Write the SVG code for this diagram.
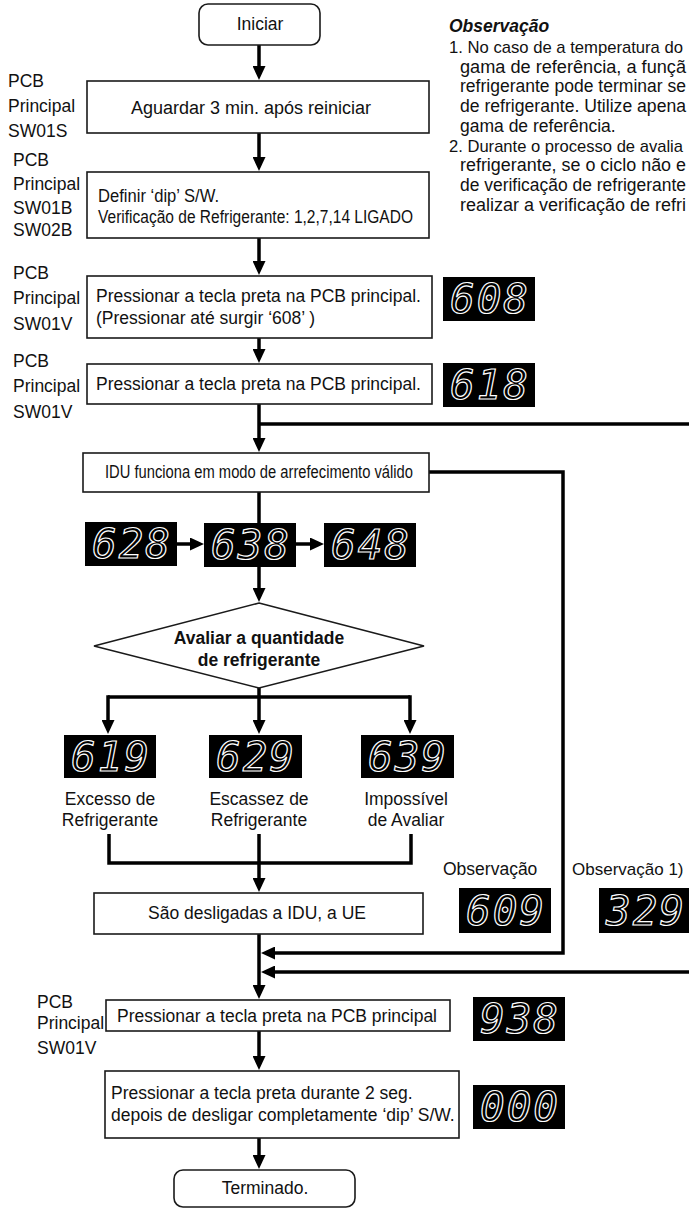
<svg xmlns="http://www.w3.org/2000/svg" width="689" height="1209" viewBox="0 0 689 1209">
<style>
.box{fill:#fff;stroke:#1a1a1a;stroke-width:1.6}
.t{font-family:"Liberation Sans",Arial,sans-serif;font-size:17.5px;fill:#111}
.c{text-anchor:middle}
.b{font-weight:bold}
.n1{font-size:16.6px}
.conn{stroke:#000;stroke-width:3.5;fill:none;stroke-linejoin:miter}
.disp{fill:#000}
.dt{font-family:"DejaVu Sans Mono",monospace;font-style:italic;font-size:41px;fill:none;stroke:#fff;stroke-width:1.2;text-anchor:middle;letter-spacing:2px}
</style>
<defs>
<marker id="ah" markerUnits="userSpaceOnUse" markerWidth="14" markerHeight="13" refX="8" refY="6.5" orient="auto"><path d="M0,0 L14,6.5 L0,13 z" fill="#000"/></marker>
</defs>

<g id="connectors">
<path class="conn" d="M259,45 V74" marker-end="url(#ah)"/>
<path class="conn" d="M259,133 V165" marker-end="url(#ah)"/>
<path class="conn" d="M259,238 V269" marker-end="url(#ah)"/>
<path class="conn" d="M259,338 V357" marker-end="url(#ah)"/>
<path class="conn" d="M259,404 V446" marker-end="url(#ah)"/>
<path class="conn" d="M259,424 H695"/>
<path class="conn" d="M429,472 H563 V953 H267" marker-end="url(#ah)"/>
<path class="conn" d="M695,972 H267" marker-end="url(#ah)"/>
<path class="conn" d="M259,492 V525"/>
<path class="conn" d="M259,565 V596" marker-end="url(#ah)"/>
<path class="conn" d="M177,544 H198" marker-end="url(#ah)"/>
<path class="conn" d="M296,544 H318" marker-end="url(#ah)"/>
<path class="conn" d="M259,688 V728" marker-end="url(#ah)"/>
<path class="conn" d="M108,697 H410"/>
<path class="conn" d="M108,695.25 V728" marker-end="url(#ah)"/>
<path class="conn" d="M410,695.25 V728" marker-end="url(#ah)"/>
<path class="conn" d="M109,834 V863 H411 V834"/>
<path class="conn" d="M259,834 V886" marker-end="url(#ah)"/>
<path class="conn" d="M259,933 V993" marker-end="url(#ah)"/>
<path class="conn" d="M259,1031 V1064" marker-end="url(#ah)"/>
<path class="conn" d="M259,1138 V1163" marker-end="url(#ah)"/>
</g>

<g id="n-iniciar">
<rect class="box" x="199" y="4" width="121" height="41" rx="9"/>
<text class="t c" x="260" y="30">Iniciar</text>
</g>

<g id="notes">
<text class="t b" x="449" y="32" style="font-style:italic">Observação</text>
<text class="t n1" x="449" y="53" textLength="234" lengthAdjust="spacingAndGlyphs">1. No caso de a temperatura do</text>
<text class="t" x="460" y="73" textLength="226" lengthAdjust="spacingAndGlyphs">gama de referência, a funçã</text>
<text class="t" x="460" y="92" textLength="226" lengthAdjust="spacingAndGlyphs">refrigerante pode terminar se</text>
<text class="t" x="460" y="112" textLength="226" lengthAdjust="spacingAndGlyphs">de refrigerante. Utilize apena</text>
<text class="t" x="460" y="132">gama de referência.</text>
<text class="t n1" x="449" y="152" textLength="234" lengthAdjust="spacingAndGlyphs">2. Durante o processo de avalia</text>
<text class="t" x="460" y="171" textLength="226" lengthAdjust="spacingAndGlyphs">refrigerante, se o ciclo não e</text>
<text class="t" x="460" y="191" textLength="226" lengthAdjust="spacingAndGlyphs">de verificação de refrigerante</text>
<text class="t" x="460" y="211" textLength="226" lengthAdjust="spacingAndGlyphs">realizar a verificação de refri</text>
</g>

<g id="n-aguardar">
<text class="t" x="8" y="87">PCB</text>
<text class="t" x="8" y="112">Principal</text>
<text class="t" x="8" y="137">SW01S</text>
<rect class="box" x="87" y="81" width="342" height="52"/>
<text class="t c" x="251" y="114" style="font-size:18px">Aguardar 3 min. após reiniciar</text>
</g>

<g id="n-dip">
<text class="t" x="13" y="166">PCB</text>
<text class="t" x="13" y="190">Principal</text>
<text class="t" x="13" y="214">SW01B</text>
<text class="t" x="13" y="236">SW02B</text>
<rect class="box" x="87" y="172" width="342" height="66"/>
<text class="t" x="98" y="202" textLength="121" lengthAdjust="spacingAndGlyphs">Definir ‘dip’ S/W.</text>
<text class="t" x="98" y="223" textLength="315" lengthAdjust="spacingAndGlyphs">Verificação de Refrigerante: 1,2,7,14 LIGADO</text>
</g>

<g id="n-press608">
<text class="t" x="13" y="279">PCB</text>
<text class="t" x="13" y="304">Principal</text>
<text class="t" x="13" y="330">SW01V</text>
<rect class="box" x="87" y="276" width="345" height="62"/>
<text class="t" x="96" y="302">Pressionar a tecla preta na PCB principal.</text>
<text class="t" x="96" y="324">(Pressionar até surgir ‘608’ )</text>
<rect class="disp" x="443" y="277" width="92" height="44"/>
<text class="dt" x="490" y="313">608</text>
</g>

<g id="n-press618">
<text class="t" x="13" y="367">PCB</text>
<text class="t" x="13" y="392">Principal</text>
<text class="t" x="13" y="418">SW01V</text>
<rect class="box" x="87" y="364" width="345" height="40"/>
<text class="t" x="96" y="390">Pressionar a tecla preta na PCB principal.</text>
<rect class="disp" x="443" y="363" width="92" height="44"/>
<text class="dt" x="490" y="399">618</text>
</g>

<g id="n-idu">
<rect class="box" x="83" y="453" width="346" height="39"/>
<text class="t c" x="259" y="478" textLength="308" lengthAdjust="spacingAndGlyphs">IDU funciona em modo de arrefecimento válido</text>
</g>

<g id="d628"><rect class="disp" x="85" y="522" width="92" height="44"/><text class="dt" x="132" y="558">628</text></g>
<g id="d638"><rect class="disp" x="204" y="523" width="92" height="44"/><text class="dt" x="251" y="559">638</text></g>
<g id="d648"><rect class="disp" x="324" y="523" width="92" height="44"/><text class="dt" x="371" y="559">648</text></g>

<g id="n-avaliar">
<polygon class="box" points="259,603 424,646 259,688 94,646"/>
<text class="t c b" x="259" y="644">Avaliar a quantidade</text>
<text class="t c b" x="259" y="666">de refrigerante</text>
</g>

<g id="r-excesso">
<rect class="disp" x="64" y="735" width="92" height="43"/><text class="dt" x="111" y="771">619</text>
<text class="t c" x="110" y="805">Excesso de</text>
<text class="t c" x="110" y="826">Refrigerante</text>
</g>
<g id="r-escassez">
<rect class="disp" x="209" y="735" width="93" height="43"/><text class="dt" x="256" y="771">629</text>
<text class="t c" x="259" y="805">Escassez de</text>
<text class="t c" x="259" y="826">Refrigerante</text>
</g>
<g id="r-impossivel">
<rect class="disp" x="361" y="735" width="93" height="43"/><text class="dt" x="408" y="771">639</text>
<text class="t c" x="406" y="805">Impossível</text>
<text class="t c" x="406" y="826">de Avaliar</text>
</g>

<g id="n-sao">
<rect class="box" x="94" y="893" width="329" height="41"/>
<text class="t c" x="257" y="919">São desligadas a IDU, a UE</text>
</g>

<g id="obs609">
<text class="t" x="443" y="875">Observação</text>
<rect class="disp" x="459" y="888" width="92" height="45"/><text class="dt" x="506" y="925">609</text>
</g>
<g id="obs329">
<text class="t" x="572" y="875" style="font-size:17px">Observação 1)</text>
<rect class="disp" x="599" y="888" width="92" height="45"/><text class="dt" x="646" y="925">329</text>
</g>

<g id="n-press938">
<text class="t" x="37" y="1008">PCB</text>
<text class="t" x="37" y="1029">Principal</text>
<text class="t" x="37" y="1054">SW01V</text>
<rect class="box" x="106" y="1000" width="344" height="31"/>
<text class="t c" x="277" y="1022">Pressionar a tecla preta na PCB principal</text>
<rect class="disp" x="473" y="997" width="92" height="44"/><text class="dt" x="520" y="1033">938</text>
</g>

<g id="n-press000">
<rect class="box" x="105" y="1071" width="354" height="67"/>
<text class="t" x="111" y="1099">Pressionar a tecla preta durante 2 seg.</text>
<text class="t" x="111" y="1121">depois de desligar completamente ‘dip’ S/W.</text>
<rect class="disp" x="473" y="1085" width="92" height="44"/><text class="dt" x="520" y="1121">000</text>
</g>

<g id="n-fim">
<rect class="box" x="174" y="1170" width="181" height="37" rx="9"/>
<text class="t c" x="265" y="1194">Terminado.</text>
</g>
</svg>
